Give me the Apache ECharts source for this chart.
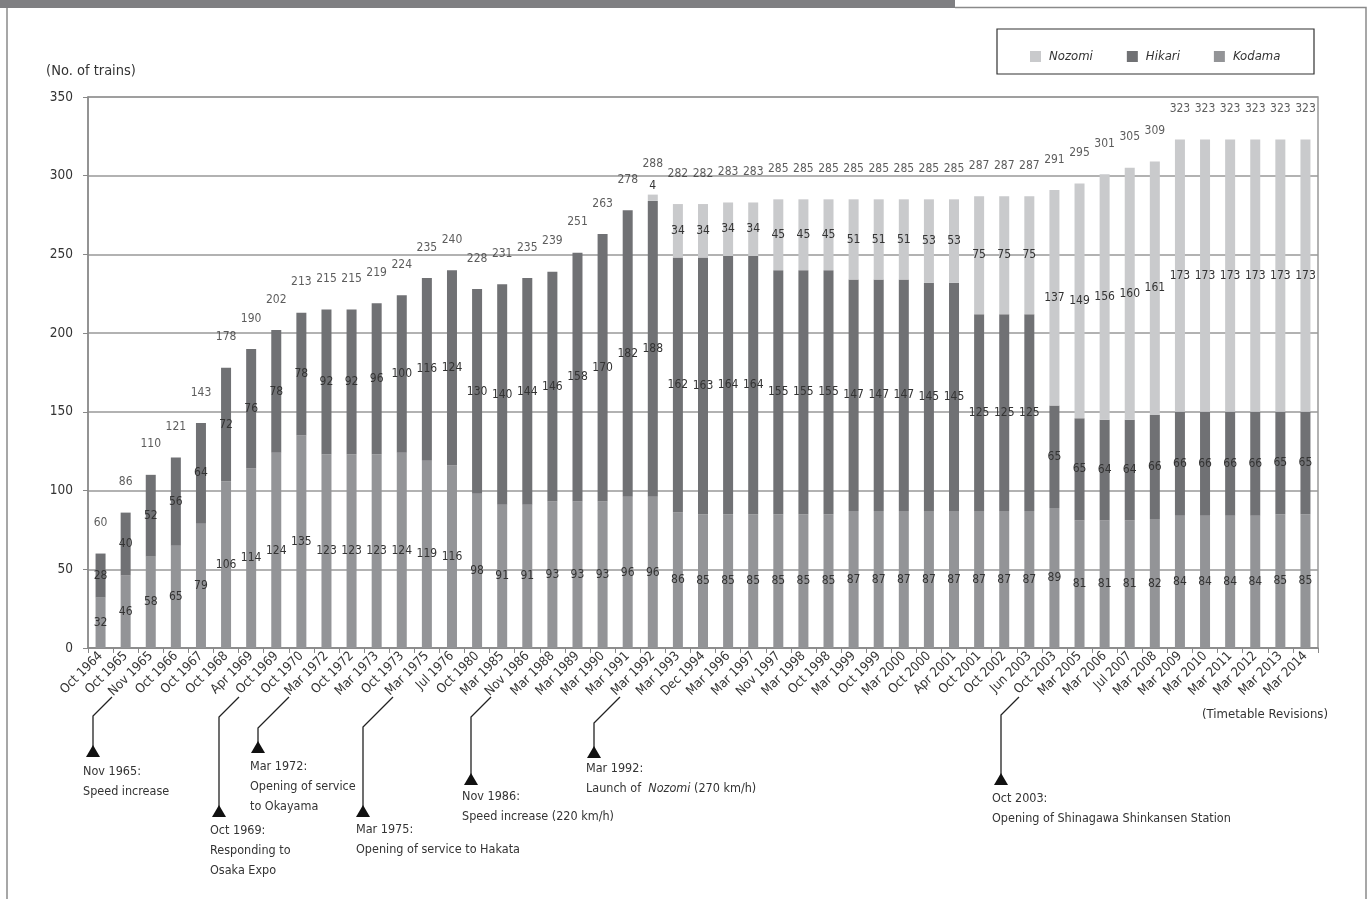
<!DOCTYPE html>
<html>
<head>
<meta charset="utf-8">
<script src="https://cdn.jsdelivr.net/npm/echarts@6/dist/echarts.min.js"></script>
<style>
html,body{margin:0;padding:0;background:#fff;}
#chart{width:1368px;height:899px;}
</style>
</head>
<body>
<div id="chart"></div>
<script>
const categories = ["Oct 1964","Oct 1965","Nov 1965","Oct 1966","Oct 1967","Oct 1968","Apr 1969","Oct 1969","Oct 1970","Mar 1972","Oct 1972","Mar 1973","Oct 1973","Mar 1975","Jul 1976","Oct 1980","Mar 1985","Nov 1986","Mar 1988","Mar 1989","Mar 1990","Mar 1991","Mar 1992","Mar 1993","Dec 1994","Mar 1996","Mar 1997","Nov 1997","Mar 1998","Oct 1998","Mar 1999","Oct 1999","Mar 2000","Oct 2000","Apr 2001","Oct 2001","Oct 2002","Jun 2003","Oct 2003","Mar 2005","Mar 2006","Jul 2007","Mar 2008","Mar 2009","Mar 2010","Mar 2011","Mar 2012","Mar 2013","Mar 2014"];
const kodama = [32,46,58,65,79,106,114,124,135,123,123,123,124,119,116,98,91,91,93,93,93,96,96,86,85,85,85,85,85,85,87,87,87,87,87,87,87,87,89,81,81,81,82,84,84,84,84,85,85];
const hikari = [28,40,52,56,64,72,76,78,78,92,92,96,100,116,124,130,140,144,146,158,170,182,188,162,163,164,164,155,155,155,147,147,147,145,145,125,125,125,65,65,64,64,66,66,66,66,66,65,65];
const nozomi = [null,null,null,null,null,null,null,null,null,null,null,null,null,null,null,null,null,null,null,null,null,null,4,34,34,34,34,45,45,45,51,51,51,53,53,75,75,75,137,149,156,160,161,173,173,173,173,173,173];
const totals = [60,86,110,121,143,178,190,202,213,215,215,219,224,235,240,228,231,235,239,251,263,278,288,282,282,283,283,285,285,285,285,285,285,285,285,287,287,287,291,295,301,305,309,323,323,323,323,323,323];
const seriesNames = ["Nozomi","Hikari","Kodama"];

const FONT = "'Liberation Sans Narrow','Arial Narrow','DejaVu Sans Condensed','Liberation Sans',sans-serif";
const TXT = '#333333';
const colors = {Nozomi:'#c9cacc', Hikari:'#707174', Kodama:'#939497'};

const annotations = [
  {vx:93,   bendY:716, apexY:745, tx:83,  ty:772, lines:["Nov 1965:","Speed increase"]},
  {vx:219,  bendY:717, apexY:805, tx:210, ty:831, lines:["Oct 1969:","Responding to","Osaka Expo"]},
  {vx:258,  bendY:728, apexY:741, tx:250, ty:767, lines:["Mar 1972:","Opening of service","to Okayama"]},
  {vx:363,  bendY:727, apexY:805, tx:356, ty:830, lines:["Mar 1975:","Opening of service to Hakata"]},
  {vx:471,  bendY:717, apexY:773, tx:462, ty:797, lines:["Nov 1986:","Speed increase (220 km/h)"]},
  {vx:594,  bendY:723, apexY:746, tx:586, ty:769, lines:["Mar 1992:","Launch of  {i|Nozomi} (270 km/h)"]},
  {vx:1001, bendY:715, apexY:773, tx:992, ty:799, lines:["Oct 2003:","Opening of Shinagawa Shinkansen Station"]}
];

const graphics = [
  {type:'rect', shape:{x:0,y:0,width:955,height:8}, style:{fill:'#7f7f82'}, silent:true},
  {type:'line', shape:{x1:7,y1:8,x2:7,y2:899}, style:{stroke:'#8a8a8a',lineWidth:1.5}, silent:true},
  {type:'polyline', shape:{points:[[955,7.5],[1366,7.5],[1366,899]]}, style:{stroke:'#8a8a8a',lineWidth:1.5,fill:null}, silent:true},
  {type:'rect', shape:{x:997,y:29,width:317,height:45}, style:{fill:'#fff',stroke:'#333',lineWidth:1.2}, z:-1, silent:true},
  {type:'text', style:{text:'(Timetable Revisions)', x:1328, y:715, align:'right', verticalAlign:'middle', fontFamily:FONT, fontSize:13, fill:TXT}, silent:true}
];
annotations.forEach(a => {
  const d = a.bendY - 697;
  graphics.push({type:'polyline', shape:{points:[[a.vx + d, 697],[a.vx, a.bendY],[a.vx, a.apexY + 4]]}, style:{stroke:'#222', lineWidth:1.3, fill:null}, silent:true});
  graphics.push({type:'polygon', shape:{points:[[a.vx, a.apexY],[a.vx - 7, a.apexY + 12],[a.vx + 7, a.apexY + 12]]}, style:{fill:'#111'}, silent:true});
  a.lines.forEach((ln, i) => {
    graphics.push({type:'text', style:{text:ln, x:a.tx, y:a.ty + i * 20, verticalAlign:'middle', align:'left', fontFamily:FONT, fontSize:12.5, fill:TXT,
      rich:{i:{fontFamily:FONT, fontSize:12.5, fontStyle:'italic', fill:TXT}}}, silent:true});
  });
});

const inLabel = {show:true, position:'inside', color:TXT, fontFamily:FONT, fontSize:12};
// very thin segments get their label just above the segment
const withSmallTop = arr => arr.map(v => (v !== null && v < 10) ? {value:v, label:{position:'top', distance:3}} : v);

const chart = echarts.init(document.getElementById('chart'), null, {renderer:'canvas'});
chart.setOption({
  animation:false,
  backgroundColor:'#ffffff',
  textStyle:{fontFamily:FONT},
  legend:{
    data:seriesNames, left:1025, top:45, itemWidth:11, itemHeight:11, itemGap:34, icon:'rect',
    textStyle:{fontFamily:FONT, fontSize:13, fontStyle:'italic', color:TXT, padding:[0,0,0,3]}
  },
  grid:{left:88, right:50, top:97, bottom:251, show:true, borderColor:'#999', borderWidth:1.5, backgroundColor:'transparent'},
  xAxis:{
    type:'category', data:categories, boundaryGap:true,
    axisLine:{lineStyle:{color:'#888', width:1.5}},
    axisTick:{show:true, alignWithLabel:false, length:5, lineStyle:{color:'#888'}},
    axisLabel:{rotate:45, interval:0, fontFamily:FONT, fontSize:13, color:TXT, margin:6}
  },
  yAxis:{
    type:'value', min:0, max:350, interval:50,
    name:'(No. of trains)', nameLocation:'end', nameGap:18,
    nameTextStyle:{fontFamily:FONT, fontSize:14.5, color:TXT, align:'center', padding:[0,0,0,6]},
    axisLine:{show:true, lineStyle:{color:'#888', width:1.5}},
    axisTick:{show:true, length:5, lineStyle:{color:'#888'}},
    axisLabel:{fontFamily:FONT, fontSize:13.5, color:TXT, margin:15},
    splitLine:{lineStyle:{color:'#999', width:1.5}}
  },
  series:[
    {name:'Kodama', type:'bar', stack:'t', data:kodama, barWidth:10, itemStyle:{color:colors.Kodama}, label:inLabel},
    {name:'Hikari', type:'bar', stack:'t', data:hikari, barWidth:10, itemStyle:{color:colors.Hikari}, label:inLabel},
    {name:'Nozomi', type:'bar', stack:'t', data:withSmallTop(nozomi), barWidth:10, itemStyle:{color:colors.Nozomi}, label:inLabel},
    {name:'Total', type:'scatter', data:totals, symbolSize:1, itemStyle:{color:'transparent'}, silent:true, z:5,
      label:{show:true, position:'top', distance:24, color:TXT, fontFamily:FONT, fontSize:12, formatter:'{c}'}}
  ],
  graphic:graphics
});
</script>
</body>
</html>
